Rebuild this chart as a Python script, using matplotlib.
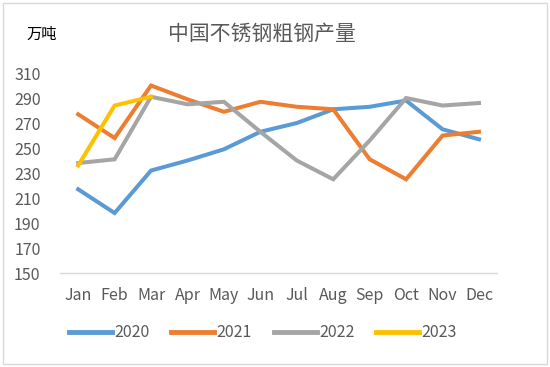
import matplotlib
matplotlib.use("Agg")
import matplotlib.pyplot as plt
from matplotlib.patches import Rectangle

plt.rcParams['font.family'] = ['Noto Sans CJK SC', 'DejaVu Sans']

months = ["Jan", "Feb", "Mar", "Apr", "May", "Jun", "Jul", "Aug", "Sep", "Oct", "Nov", "Dec"]
y2020 = [217, 198, 232, 240, 249, 263, 270, 281, 283, 288, 265, 257]
y2021 = [277, 258, 300, 289, 279, 287, 283, 281, 241, 225, 260, 263]
y2022 = [238, 241, 291, 285, 287, 263, 240, 225, 256, 290, 284, 286]
y2023 = [236, 284, 291]
series = [("2020", y2020, "#5B9BD5"), ("2021", y2021, "#ED7D31"),
          ("2022", y2022, "#A5A5A5"), ("2023", y2023, "#FFC000")]
yticks = [150, 170, 190, 210, 230, 250, 270, 290, 310]

fig = plt.figure(figsize=(5.5, 3.67), dpi=100)
ax = fig.add_axes([0.109, 0.256, 0.795, 0.545])
x = list(range(len(months)))
for name, vals, col in series:
    ax.plot(x[:len(vals)], vals, color=col, lw=2.9, label=name, solid_joinstyle='miter')

ax.set_xlim(-0.5, 11.5)
ax.set_ylim(150, 310)
ax.set_yticks(yticks)
ax.set_xticks(x)
ax.set_xticklabels(months)
for s in ["top", "right", "left"]:
    ax.spines[s].set_visible(False)
ax.spines["bottom"].set_color("#D9D9D9")
ax.spines["bottom"].set_linewidth(1)
ax.tick_params(axis="both", length=0, colors="#595959", labelsize=11.5)
ax.tick_params(axis="x", pad=10)
ax.tick_params(axis="y", pad=14)

fig.text(0.477, 0.907, "中国不锈钢粗钢产量", ha="center", va="center", fontsize=15,
         color="#595959", fontweight="medium")
fig.text(0.049, 0.907, "万吨", ha="left", va="center", fontsize=11, color="#000000")

leg = fig.legend(loc="center", bbox_to_anchor=(0.478, 0.093), ncol=4, frameon=False,
                 fontsize=11.5, handlelength=2.7, columnspacing=1.35, handletextpad=0.15)
for t in leg.get_texts():
    t.set_color("#595959")
for h in leg.legend_handles:
    h.set_linewidth(3.5)

fig.patches.append(Rectangle((0.006, 0.008), 0.988, 0.984, transform=fig.transFigure,
                             fill=False, edgecolor="#D9D9D9", lw=1))
fig.savefig("out.png", dpi=100)
